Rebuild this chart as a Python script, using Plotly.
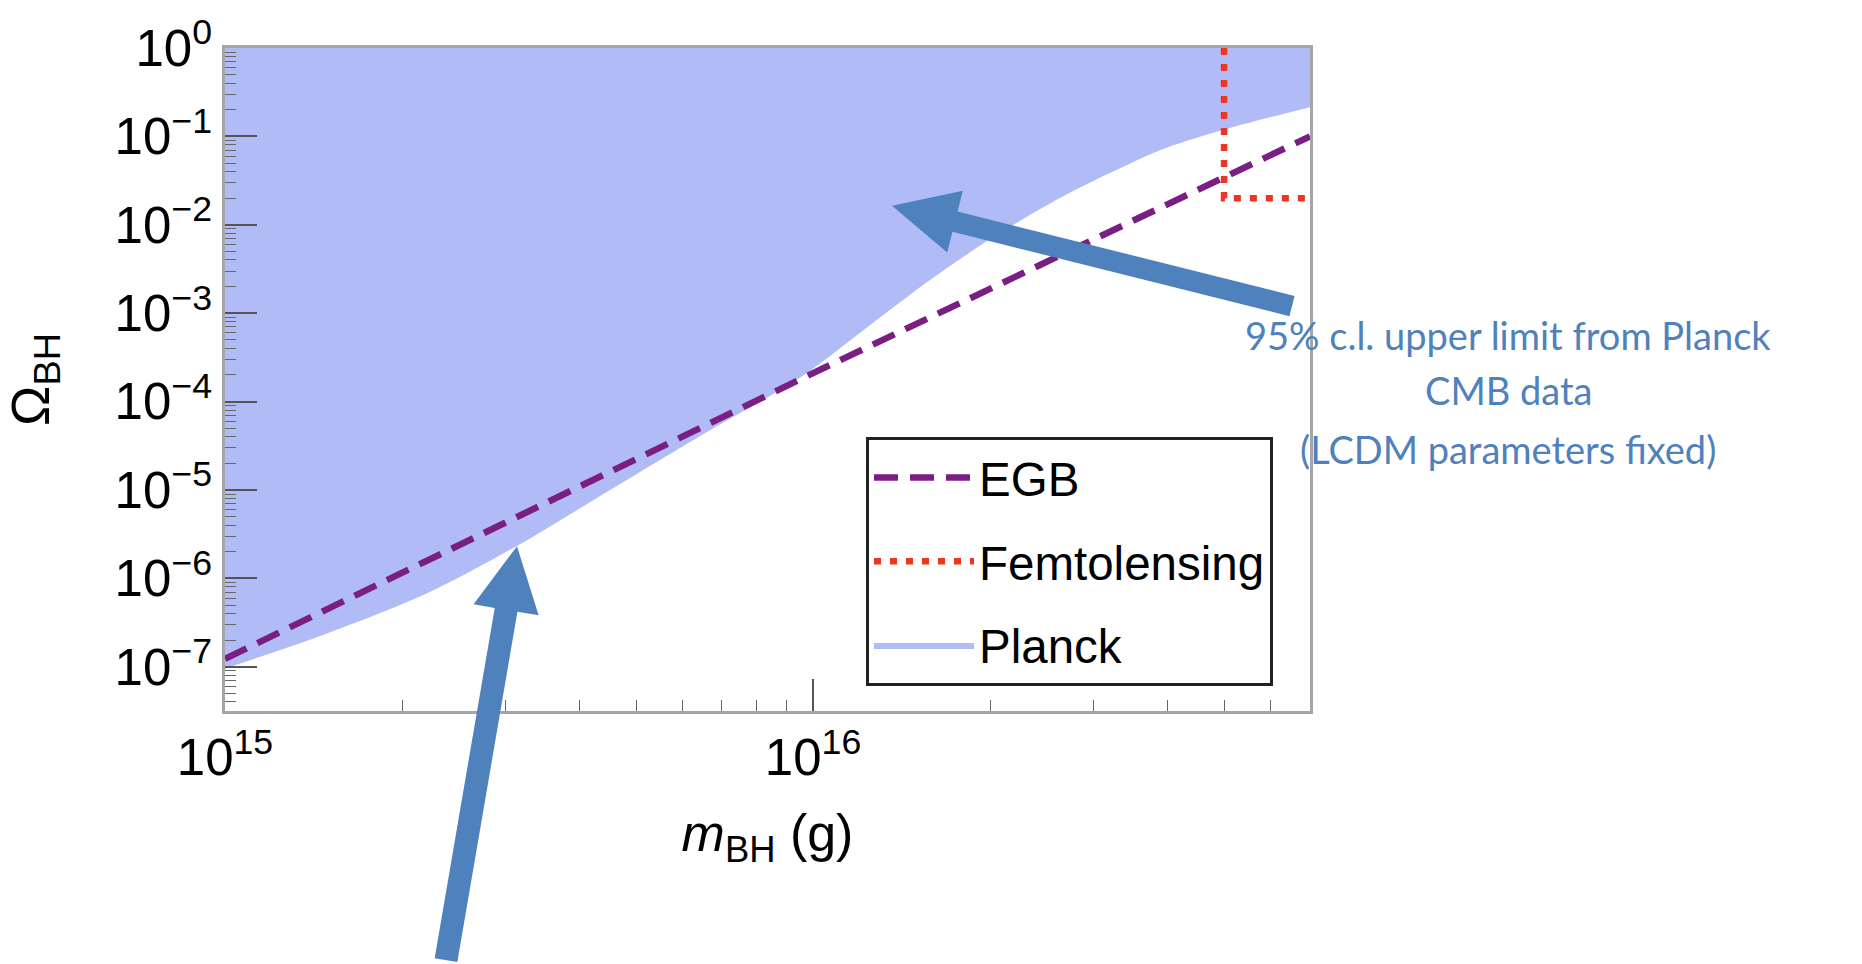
import math
import plotly.graph_objects as go

# ---------------- data ----------------
planck_mass = [1.0e15, 1.479e15, 2.188e15, 3.162e15, 4.365e15, 6.457e15, 9.55e15,
               1.259e16, 1.585e16, 1.995e16, 2.512e16, 3.162e16, 3.981e16, 5.012e16, 7.0e16]
planck_omega = [9.55e-8, 2.34e-7, 6.61e-7, 2.40e-6, 8.71e-6, 4.17e-5, 1.91e-4,
                7.6e-4, 2.4e-3, 6.8e-3, 1.70e-2, 3.72e-2, 7.4e-2, 0.120, 0.214]
planck_top = [1.0] * len(planck_mass)

egb_mass = [1.0e15, 1.0e16, 7.0e16]
egb_omega = [1.23e-7, 2.1e-4, 0.1]

femto_mass = [5.0e16, 5.0e16, 7.0e16]
femto_omega = [1.0, 0.02, 0.02]

x_major = [1e15, 1e16]
x_major_text = ["10<sup>15</sup>", "10<sup>16</sup>"]
y_major = [1e-7, 1e-6, 1e-5, 1e-4, 1e-3, 1e-2, 1e-1, 1e0]
y_major_text = ["10<sup>\u22127</sup>", "10<sup>\u22126</sup>", "10<sup>\u22125</sup>",
                "10<sup>\u22124</sup>", "10<sup>\u22123</sup>", "10<sup>\u22122</sup>",
                "10<sup>\u22121</sup>", "10<sup>0</sup>"]
x_minor = [m * 10.0 ** e for e in (15, 16) for m in range(2, 10) if m * 10.0 ** e < 7e16]
y_minor = [m * 10.0 ** e for e in range(-8, 0) for m in range(2, 10) if m * 10.0 ** e > 10 ** -7.5]

note_lines = ["95% c.l. upper limit from Planck", "CMB data", "(LCDM parameters fixed)"]

# ---------------- layout geometry ----------------
W, H = 1862, 964
L, T, R, B = 225, 43, 1310, 711
PW, PH = R - L, B - T

def to_paper(px, py):
    return (px - L) / PW, (B - py) / PH

def arrow_path(tip, tail, shaft_half, head_len, head_half):
    dx, dy = tip[0] - tail[0], tip[1] - tail[1]
    d = math.hypot(dx, dy)
    ux, uy = dx / d, dy / d
    nx, ny = -uy, ux
    bx, by = tip[0] - ux * head_len, tip[1] - uy * head_len
    pts = [(tail[0] + nx * shaft_half, tail[1] + ny * shaft_half),
           (bx + nx * shaft_half, by + ny * shaft_half),
           (bx + nx * head_half, by + ny * head_half),
           tip,
           (bx - nx * head_half, by - ny * head_half),
           (bx - nx * shaft_half, by - ny * shaft_half),
           (tail[0] - nx * shaft_half, tail[1] - ny * shaft_half)]
    s = ""
    for i, (px, py) in enumerate(pts):
        qx, qy = to_paper(px, py)
        s += ("M" if i == 0 else "L") + f"{qx:.5f},{qy:.5f} "
    return s + "Z"

ARROW = "#4F81BD"
FONT = "Liberation Sans, Arial, Helvetica, sans-serif"
TICKFONT = dict(family=FONT, size=51, color="black")

fig = go.Figure()

fig.add_trace(go.Scatter(x=planck_mass, y=planck_top, mode="lines",
                         line=dict(width=0, color="rgba(0,0,0,0)"),
                         showlegend=False, hoverinfo="skip"))
fig.add_trace(go.Scatter(x=planck_mass, y=planck_omega, mode="lines", name="Planck",
                         line=dict(width=0, shape="spline", smoothing=0.9, color="#B1BCF7"),
                         fill="tonexty", fillcolor="#B1BCF7",
                         legendgroup="c", legendrank=3))
fig.add_trace(go.Scatter(x=egb_mass, y=egb_omega, mode="lines", name="EGB",
                         line=dict(color="#7B1E84", width=6.5, dash="24px,12px"),
                         legendgroup="a", legendrank=1))
fig.add_trace(go.Scatter(x=femto_mass, y=femto_omega, mode="lines", name="Femtolensing",
                         line=dict(color="#EC3524", width=6.5, dash="7px,9px"),
                         legendgroup="b", legendrank=2))

axis_common = dict(type="log", showgrid=False, zeroline=False,
                   showline=True, linecolor="#a6a6a6", linewidth=2.5, mirror=True,
                   ticks="inside", ticklen=32, tickwidth=1.6, tickcolor="#555555",
                   tickfont=TICKFONT, tickmode="array")

fig.update_xaxes(**axis_common, range=[15, math.log10(7e16)],
                 tickvals=x_major, ticktext=x_major_text,
                 minor=dict(tickmode="array", tickvals=x_minor, ticks="inside",
                            ticklen=11, tickwidth=1.4, tickcolor="#666666"),
                 title=dict(text="<i>m</i><sub>BH</sub> (g)",
                            font=dict(family=FONT, size=52, color="black"),
                            standoff=30))
fig.update_yaxes(**axis_common, range=[-7.5, 0],
                 tickvals=y_major, ticktext=y_major_text,
                 minor=dict(tickmode="array", tickvals=y_minor, ticks="inside",
                            ticklen=11, tickwidth=1.4, tickcolor="#666666"),
                 ticklabelstandoff=0,
                 title=dict(text="\u03a9<sub>BH</sub>",
                            font=dict(family=FONT, size=54, color="black"),
                            standoff=49))

lx, ly = to_paper(866, 435)
fig.update_layout(
    width=W, height=H, autosize=False,
    margin=dict(l=L, r=W - R, t=T, b=H - B, pad=0),
    paper_bgcolor="white", plot_bgcolor="white",
    showlegend=True,
    legend=dict(x=lx, y=ly, xanchor="left", yanchor="top",
                bgcolor="white", bordercolor="#222222", borderwidth=3,
                font=dict(family=FONT, size=47.5, color="black"),
                traceorder="grouped", tracegroupgap=19, itemwidth=100),
)

# arrows
fig.add_shape(type="path", xref="paper", yref="paper", layer="above",
              path=arrow_path((892, 202), (1292, 303), 10.5, 65, 32),
              fillcolor=ARROW, line=dict(width=0))
fig.add_shape(type="path", xref="paper", yref="paper", layer="above",
              path=arrow_path((517, 545), (446, 962), 11.5, 65, 33),
              fillcolor=ARROW, line=dict(width=0))

# note text
note_y = [332, 388, 447]
for txt, yy in zip(note_lines, note_y):
    ax_, ay_ = to_paper(1508, yy)
    fig.add_annotation(x=ax_, y=ay_, xref="paper", yref="paper", text=txt,
                       showarrow=False, xanchor="center", yanchor="middle",
                       font=dict(family="Lato, Open Sans, sans-serif", size=38, color=ARROW))

fig.write_html("out.html")
